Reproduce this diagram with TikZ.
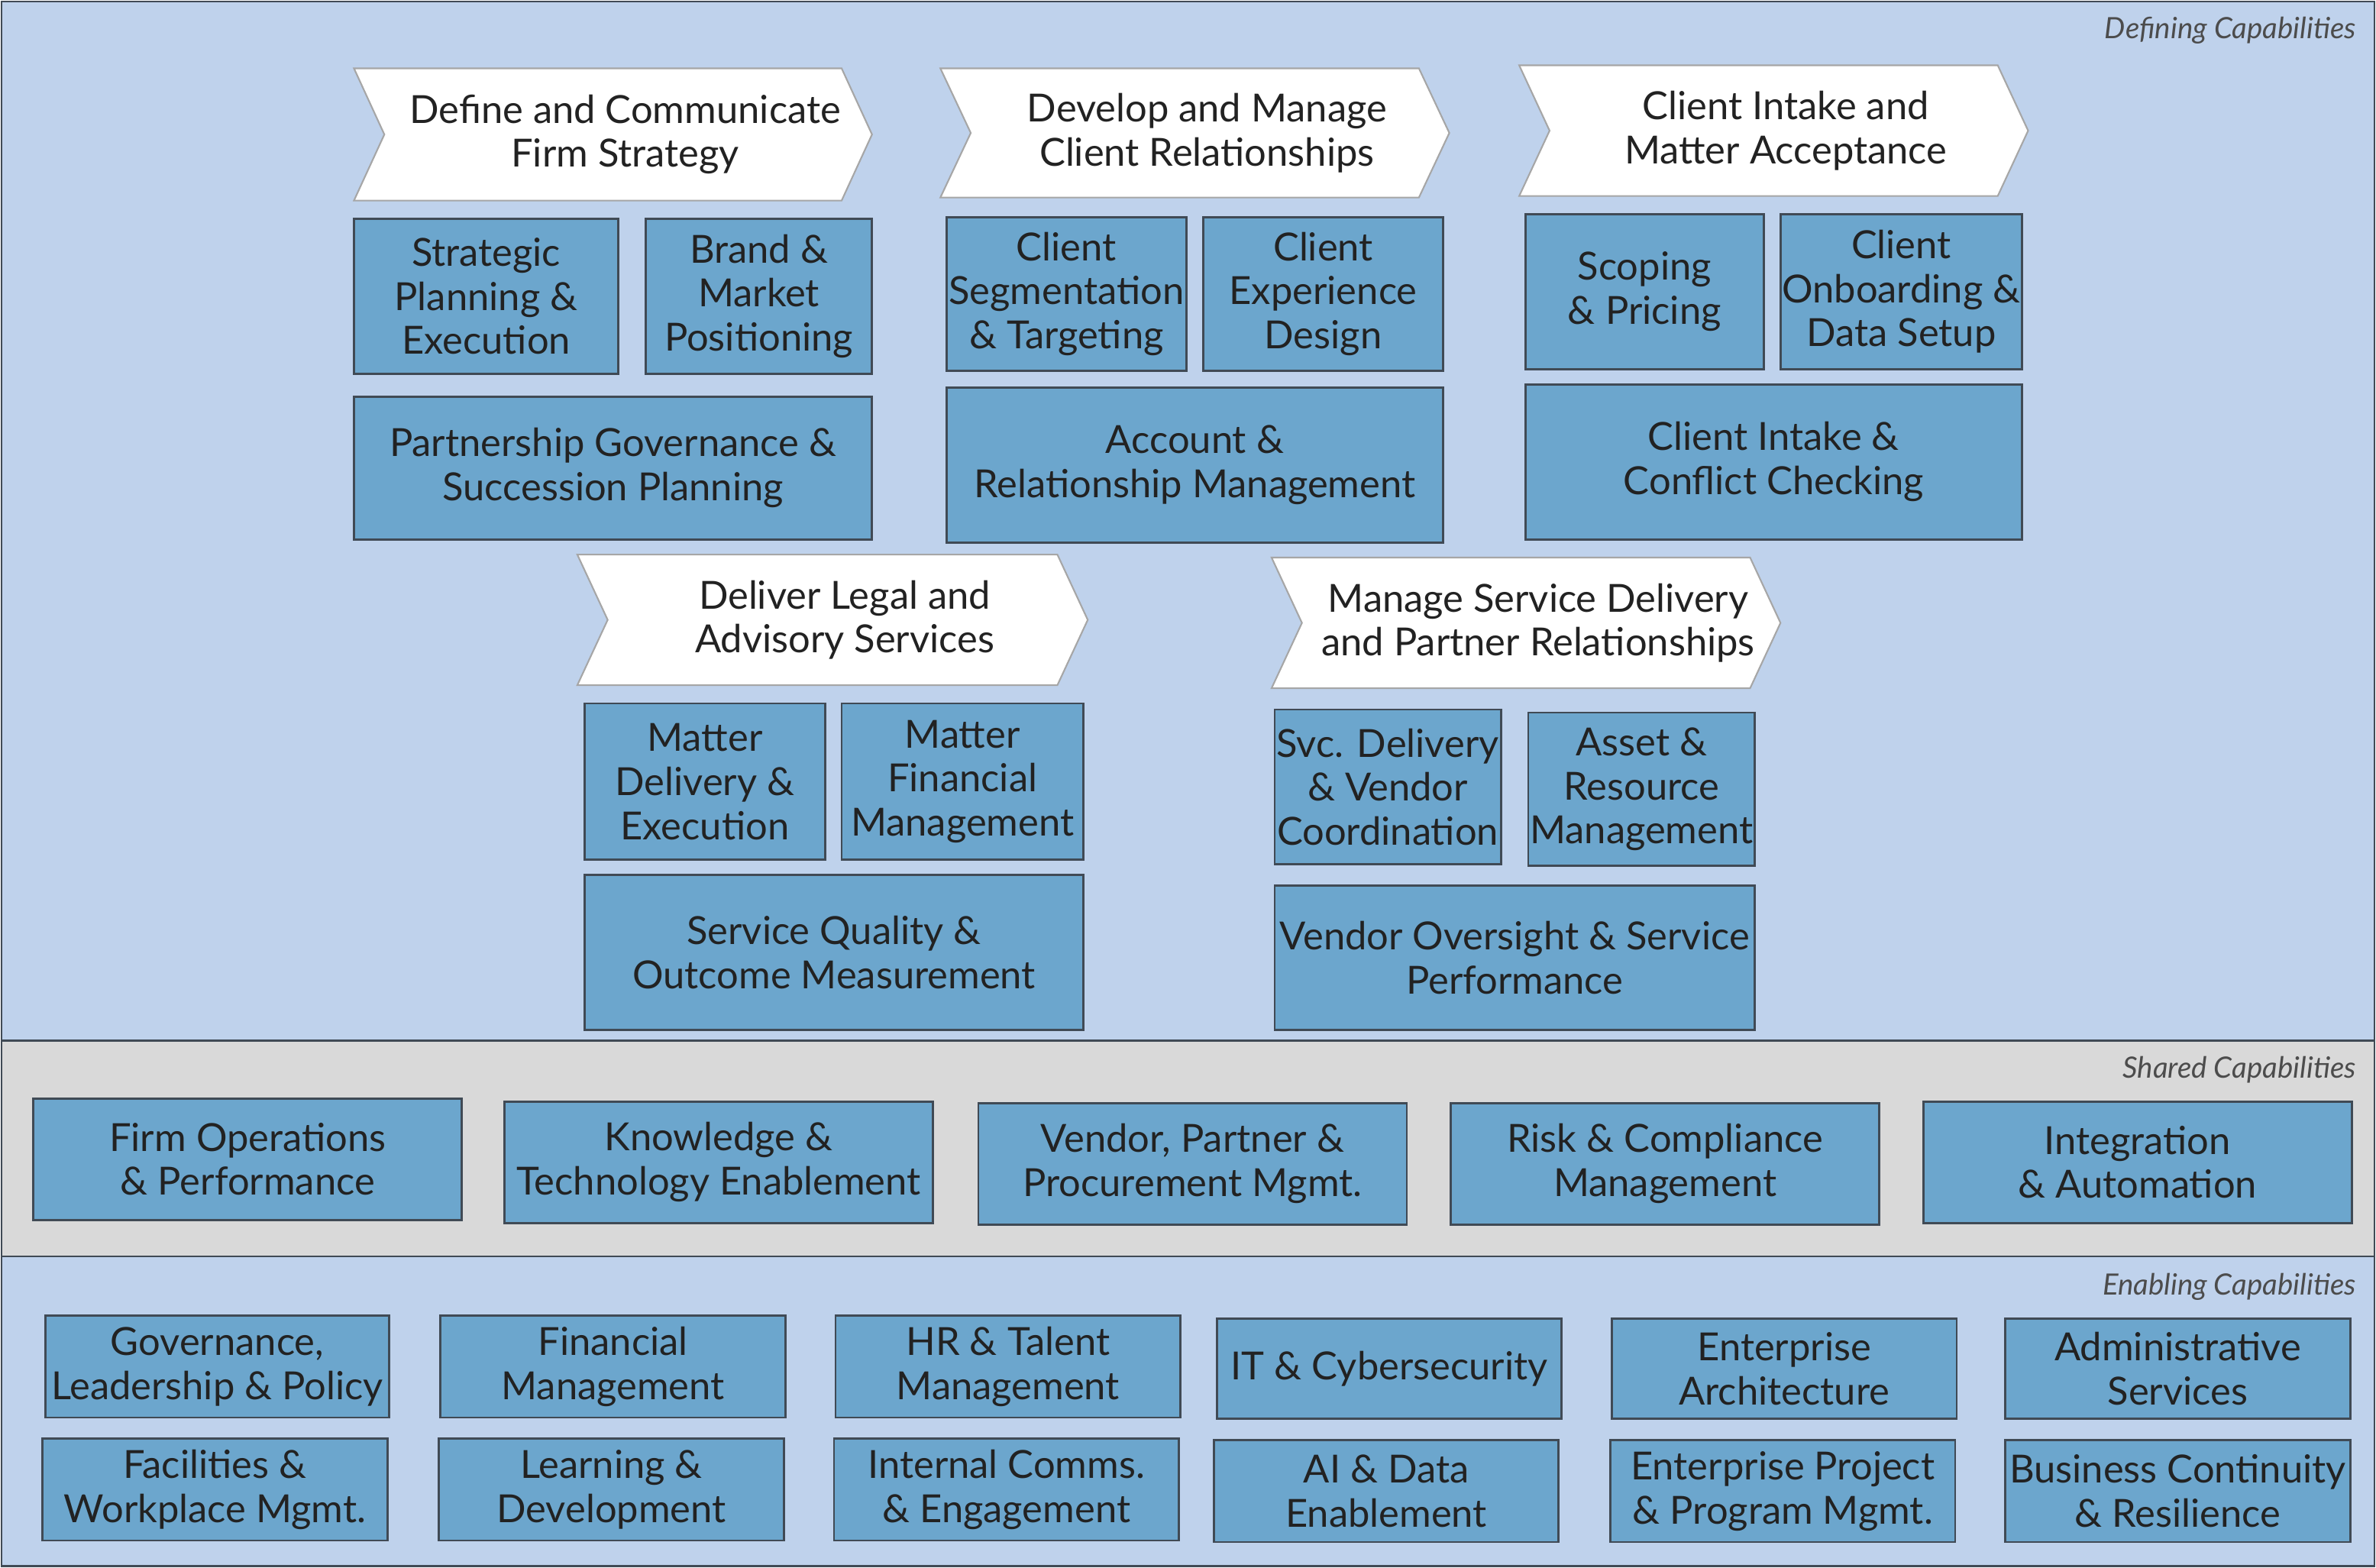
\documentclass[tikz,border=0pt]{standalone}
\usepackage{fontspec}
\setmainfont{Lato}
\usetikzlibrary{positioning}
\definecolor{bandblue}{HTML}{BFD2EC}
\definecolor{bandgray}{HTML}{D9D9D9}
\definecolor{capblue}{HTML}{6CA6CD}
\definecolor{edge}{HTML}{404A55}
\definecolor{txt}{HTML}{222222}
\tikzset{
  band/.style={draw=edge, line width=0.8pt},
  capnode/.style={draw=edge, fill=capblue, line width=0.8pt, align=center, inner sep=0pt,
    font=\fontsize{14.5}{16.5}\selectfont, text=txt},
  chev/.style={draw=gray!70, fill=white, line width=0.6pt},
  chevtext/.style={align=center, font=\fontsize{14.5}{16.5}\selectfont, text=txt},
  bandlabel/.style={anchor=east, font=\itshape\fontsize{11}{13}\selectfont, text=black!70}
}
% capability box from its corners
\newcommand\capbox[6]{%
  \node[capnode, minimum width={(#4-#2)*0.02cm}, minimum height={(#5-#3)*0.02cm}]
    (#1) at ({(#2+#4)/2},{(#3+#5)/2}) {#6};}
% process chevron
\newcommand\chevron[6]{%
  \draw[chev] (#2,#3) -- (#4-20,#3) -- (#4,{(#3+#5)/2}) -- (#4-20,#5) -- (#2,#5)
    -- (#2+20,{(#3+#5)/2}) -- cycle;
  \node[chevtext] (#1) at ({(#2+#4)/2+8},{(#3+#5)/2}) {#6};}
\begin{document}
\begin{tikzpicture}[x=0.02cm, y=-0.02cm]
\useasboundingbox (0,0) rectangle (1564,1032);
% bands
\fill[bandblue] (1,1) rectangle (1563,685);
\fill[bandgray] (1,685) rectangle (1563,827);
\fill[bandblue] (1,827) rectangle (1563,1031);
\draw[band] (1,1) rectangle (1563,1031);
\draw[band] (1,685) -- (1563,685);
\draw[band] (1,827) -- (1563,827);
\node[bandlabel] (deflbl) at (1557,20) {Defining Capabilities};
\node[bandlabel] (shlbl) at (1557,704) {Shared Capabilities};
\node[bandlabel] (enlbl) at (1557,847) {Enabling Capabilities};

% defining capabilities
\chevron{strat}{233}{45}{574}{132}{Define and Communicate\\Firm Strategy}
\capbox{plan}{233}{144}{407}{246}{Strategic\\Planning \&\\Execution}
\capbox{brand}{425}{144}{574}{246}{Brand \&\\Market\\Positioning}
\capbox{partner}{233}{261}{574}{355}{Partnership Governance \&\\Succession Planning}

\chevron{rel}{619}{45}{954}{130}{Develop and Manage\\Client Relationships}
\capbox{seg}{623}{143}{781}{244}{Client\\Segmentation\\\& Targeting}
\capbox{exp}{792}{143}{950}{244}{Client\\Experience\\Design}
\capbox{acct}{623}{255}{950}{357}{Account \&\\Relationship Management}

\chevron{intake}{1000}{43}{1335}{129}{Client Intake and\\Matter Acceptance}
\capbox{scope}{1004}{141}{1161}{243}{Scoping\\\& Pricing}
\capbox{onb}{1172}{141}{1331}{243}{Client\\Onboarding \&\\Data Setup}
\capbox{conf}{1004}{253}{1331}{355}{Client Intake \&\\Conflict Checking}

\chevron{legal}{380}{365}{716}{451}{Deliver Legal and\\Advisory Services}
\capbox{mdel}{385}{463}{543}{566}{Matter\\Delivery \&\\Execution}
\capbox{mfin}{554}{463}{713}{566}{Matter\\Financial\\Management}
\capbox{qual}{385}{576}{713}{678}{Service Quality \&\\Outcome Measurement}

\chevron{svc}{837}{367}{1172}{453}{Manage Service Delivery\\and Partner Relationships}
\capbox{svcd}{839}{467}{988}{569}{Svc. Delivery\\\& Vendor\\Coordination}
\capbox{asset}{1006}{469}{1155}{570}{Asset \&\\Resource\\Management}
\capbox{vend}{839}{583}{1155}{678}{Vendor Oversight \& Service\\Performance}

% shared capabilities
\capbox{ops}{22}{723}{304}{803}{Firm Operations\\\& Performance}
\capbox{know}{332}{725}{614}{805}{Knowledge \&\\Technology Enablement}
\capbox{proc}{644}{726}{926}{806}{Vendor, Partner \&\\Procurement Mgmt.}
\capbox{risk}{955}{726}{1237}{806}{Risk \& Compliance\\Management}
\capbox{integ}{1266}{725}{1548}{805}{Integration\\\& Automation}

% enabling capabilities
\capbox{gov}{30}{866}{256}{933}{Governance,\\Leadership \& Policy}
\capbox{fin}{290}{866}{517}{933}{Financial\\Management}
\capbox{hr}{550}{866}{777}{933}{HR \& Talent\\Management}
\capbox{it}{801}{868}{1028}{934}{IT \& Cybersecurity}
\capbox{ea}{1061}{868}{1288}{934}{Enterprise\\Architecture}
\capbox{admin}{1320}{868}{1547}{934}{Administrative\\Services}
\capbox{fac}{28}{947}{255}{1014}{Facilities \&\\Workplace Mgmt.}
\capbox{learn}{289}{947}{516}{1014}{Learning \&\\Development}
\capbox{comms}{549}{947}{776}{1014}{Internal Comms.\\\& Engagement}
\capbox{ai}{799}{948}{1026}{1015}{AI \& Data\\Enablement}
\capbox{epm}{1060}{948}{1287}{1015}{Enterprise Project\\\& Program Mgmt.}
\capbox{bcr}{1320}{948}{1547}{1015}{Business Continuity\\\& Resilience}
\end{tikzpicture}
\end{document}
